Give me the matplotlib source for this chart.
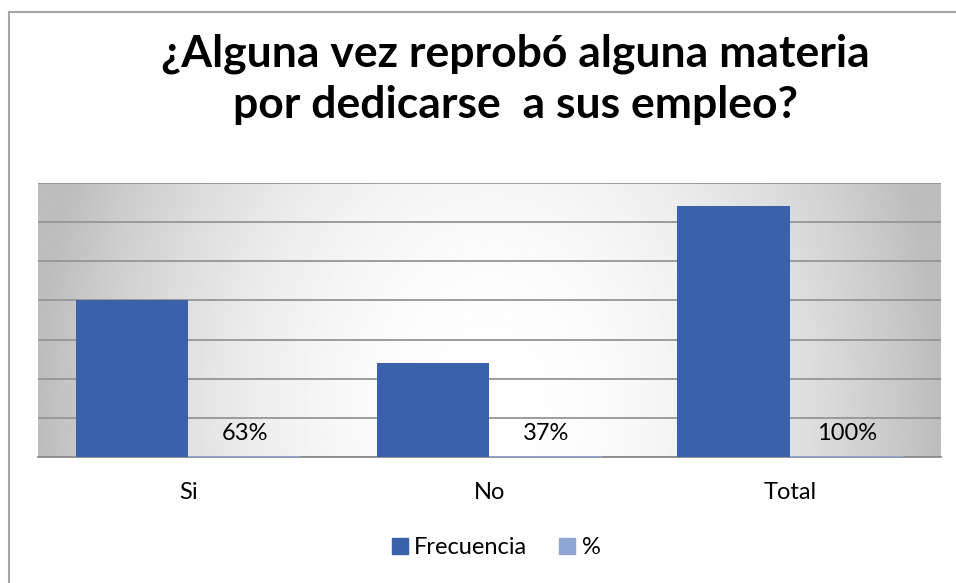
import matplotlib.pyplot as plt
import matplotlib.lines as mlines
import numpy as np

# Datos
categorias = ['Si', 'No', 'Total']
frecuencia = [20, 12, 32]
porcentaje = [0.63, 0.37, 1.00]
etiquetas = ['63%', '37%', '100%']
titulo = ['¿Alguna vez reprobó alguna materia', 'por dedicarse  a sus empleo?']

color_frec = '#3a62aa'
color_pct = '#8fa5d6'

plt.rcParams['font.family'] = ['Lato', 'DejaVu Sans']

W, H = 956, 583
fig = plt.figure(figsize=(W / 100, H / 100), dpi=100)
ax = fig.add_axes([38 / W, 1 - 457 / H, 902.7 / W, 274 / H])

# Fondo degradado del area de trazado
gx, gy = np.meshgrid(np.linspace(0, 1, 400), np.linspace(0, 1, 200))
r = np.sqrt(((gx - 0.5) / 0.5) ** 2 + ((gy - 0.2) / 2.2) ** 2)
fondo = 1 - 0.26 * np.clip(r, 0, 1) ** 2.0
ax.imshow(fondo, cmap='gray', vmin=0, vmax=1, extent=[-0.5, 2.5, 0, 35],
          aspect='auto', origin='lower', zorder=0, interpolation='bilinear')

x = np.arange(len(categorias))
ancho = 0.375
ax.bar(x - ancho / 2, frecuencia, width=ancho, color=color_frec, zorder=3,
       label='Frecuencia')

# Serie de porcentaje en su propia escala (casi invisible)
ax2 = ax.twinx()
ax2.bar(x + ancho / 2, porcentaje, width=ancho, color=color_pct, zorder=3)
ax2.set_ylim(0, 200)
ax2.set_axis_off()

for xi, et in zip(x, etiquetas):
    ax.text(xi + ancho / 2, 2.17, et, ha='center', va='baseline',
            fontsize=17, color='#000000', zorder=5)

ax.set_xlim(-0.5, 2.5)
ax.set_ylim(0, 35)
ax.set_yticks(range(0, 36, 5))
ax.yaxis.grid(True, color='#959595', linewidth=1.3, zorder=1)
ax.set_axisbelow(True)
ax.tick_params(axis='y', left=False, labelleft=False)
ax.set_xticks(x)
ax.set_xticklabels(categorias, fontsize=17)
ax.tick_params(axis='x', length=0, pad=18)
for s in ['left', 'right', 'top']:
    ax.spines[s].set_visible(False)
ax.spines['bottom'].set_color('#8c8c8c')
ax.spines['bottom'].set_linewidth(1.3)

# Titulo (dos lineas con linea base fija)
fig.text(0.539, 1 - 67 / H, titulo[0], ha='center', va='baseline',
         fontsize=32, fontweight='bold')
fig.text(0.539, 1 - 118 / H, titulo[1], ha='center', va='baseline',
         fontsize=32, fontweight='bold')

# Leyenda
h1 = mlines.Line2D([], [], color=color_frec, marker='s', linestyle='None',
                   markersize=11)
h2 = mlines.Line2D([], [], color=color_pct, marker='s', linestyle='None',
                   markersize=11)
fig.legend([h1, h2], ['Frecuencia', '%'], loc='center', ncol=2,
           bbox_to_anchor=(0.517, 1 - 548 / H), frameon=False, fontsize=17,
           handletextpad=0.1, columnspacing=1.2, handlelength=1.0)

# Borde del grafico
fig.add_artist(mlines.Line2D([9 / W, 9 / W], [0, 1 - 12 / H],
                             color='#a6a6a6', linewidth=1.5))
fig.add_artist(mlines.Line2D([9 / W, 1], [1 - 12 / H, 1 - 12 / H],
                             color='#a6a6a6', linewidth=1.5))

plt.savefig('out.png', dpi=100)
